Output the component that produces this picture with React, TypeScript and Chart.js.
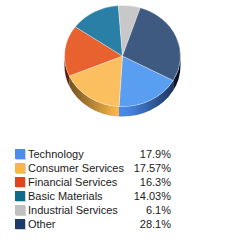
import React, { useEffect, useRef } from 'react';
import { Chart, registerables } from 'chart.js';

Chart.register(...registerables);

const categories = ['Technology', 'Consumer Services', 'Financial Services', 'Basic Materials', 'Industrial Services', 'Other'];
const values = [17.9, 17.57, 16.3, 14.03, 6.1, 28.1];
const percentLabels = ['17.9%', '17.57%', '16.3%', '14.03%', '6.1%', '28.1%'];
const faceColors = ['#5a9ef2', '#fcbf60', '#e8622f', '#2a7fa6', '#c8c8c8', '#3e5a80'];
const swatchColors = ['#4a8cf0', '#fbb64a', '#e0441a', '#106a8e', '#c0c0c0', '#1c3a6a'];

const START_DEG = 119;
const TILT = 0.872;
const DEPTH = 10;
const FACE_CY = 56;
const CANVAS_W = 245;
const CANVAS_H = 125;

function shade(hex: string, f: number): string {
  const n = parseInt(hex.slice(1), 16);
  const r = Math.min(255, Math.round(((n >> 16) & 255) * f));
  const g = Math.min(255, Math.round(((n >> 8) & 255) * f));
  const b = Math.min(255, Math.round((n & 255) * f));
  return `rgb(${r},${g},${b})`;
}

const pie3d = {
  id: 'pie3d',
  beforeDatasetsDraw(chart: any) {
    const ctx = chart.ctx as CanvasRenderingContext2D;
    const arcs = chart.getDatasetMeta(0).data;
    chart.$pie3dSaved = false;
    if (!arcs.length) return;
    const p0 = arcs[0].getProps(['x', 'y', 'outerRadius'], true);
    const cx = p0.x, cy = p0.y, r = p0.outerRadius;
    const ry = r * TILT;
    const TWO_PI = Math.PI * 2;
    arcs.forEach((arc: any, i: number) => {
      const { startAngle, endAngle } = arc.getProps(['startAngle', 'endAngle'], true);
      const base = swatchColors[i];
      for (let k = -2; k <= 2; k++) {
        const lo = Math.max(startAngle, k * TWO_PI);
        const hi = Math.min(endAngle, k * TWO_PI + Math.PI);
        if (hi <= lo) continue;
        const grad = ctx.createLinearGradient(cx - r, 0, cx + r, 0);
        grad.addColorStop(0, shade(base, 0.4));
        grad.addColorStop(0.45, shade(base, 1.0));
        grad.addColorStop(0.55, shade(base, 0.95));
        grad.addColorStop(1, shade(base, 0.3));
        ctx.save();
        ctx.beginPath();
        ctx.ellipse(cx, FACE_CY, r, ry, 0, lo, hi, false);
        ctx.lineTo(cx + r * Math.cos(hi), FACE_CY + ry * Math.sin(hi) + DEPTH);
        ctx.ellipse(cx, FACE_CY + DEPTH, r, ry, 0, hi, lo, true);
        ctx.closePath();
        ctx.fillStyle = grad;
        ctx.fill();
        ctx.restore();
      }
    });
    ctx.save();
    chart.$pie3dSaved = true;
    ctx.translate(0, FACE_CY);
    ctx.scale(1, TILT);
    ctx.translate(0, -cy);
  },
  afterDatasetsDraw(chart: any) {
    if (chart.$pie3dSaved) {
      chart.ctx.restore();
      chart.$pie3dSaved = false;
    }
  },
};

export default function App() {
  const canvasRef = useRef<HTMLCanvasElement | null>(null);

  useEffect(() => {
    if (!canvasRef.current) return;
    const chart = new Chart(canvasRef.current, {
      type: 'pie',
      data: {
        labels: categories,
        datasets: [
          {
            data: values,
            backgroundColor: faceColors,
            borderWidth: 1,
            borderColor: 'rgba(255,255,255,0.35)',
          },
        ],
      },
      options: {
        responsive: false,
        animation: false,
        rotation: START_DEG,
        layout: { padding: { left: 63.5, right: 63.5, top: 0, bottom: CANVAS_H - 117 } },
        plugins: { legend: { display: false }, tooltip: { enabled: false } },
      },
      plugins: [pie3d as any],
    });
    return () => chart.destroy();
  }, []);

  return (
    <div style={{ position: 'absolute', left: 0, top: 0, width: 245, height: 245, background: '#fff' }}>
      <canvas ref={canvasRef} width={CANVAS_W} height={CANVAS_H} style={{ position: 'absolute', left: 0, top: 0, width: CANVAS_W, height: CANVAS_H }} />
      <div
        style={{
          position: 'absolute',
          left: 15,
          top: 147,
          width: 156,
          fontFamily: '"Liberation Sans", Arial, sans-serif',
          fontSize: 11,
          color: '#1a1a1a',
        }}
      >
        {categories.map((c, i) => (
          <div key={c} style={{ display: 'flex', alignItems: 'center', height: 14, lineHeight: '14px' }}>
            <span
              style={{
                display: 'inline-block',
                width: 10,
                height: 10,
                background: swatchColors[i],
                marginRight: 3,
                boxShadow: '1px 1px 0 #d0d0d0',
                flex: 'none',
              }}
            />
            <span style={{ flex: 1, whiteSpace: 'nowrap' }}>{c}</span>
            <span style={{ whiteSpace: 'nowrap', textAlign: 'right' }}>{percentLabels[i]}</span>
          </div>
        ))}
      </div>
    </div>
  );
}
